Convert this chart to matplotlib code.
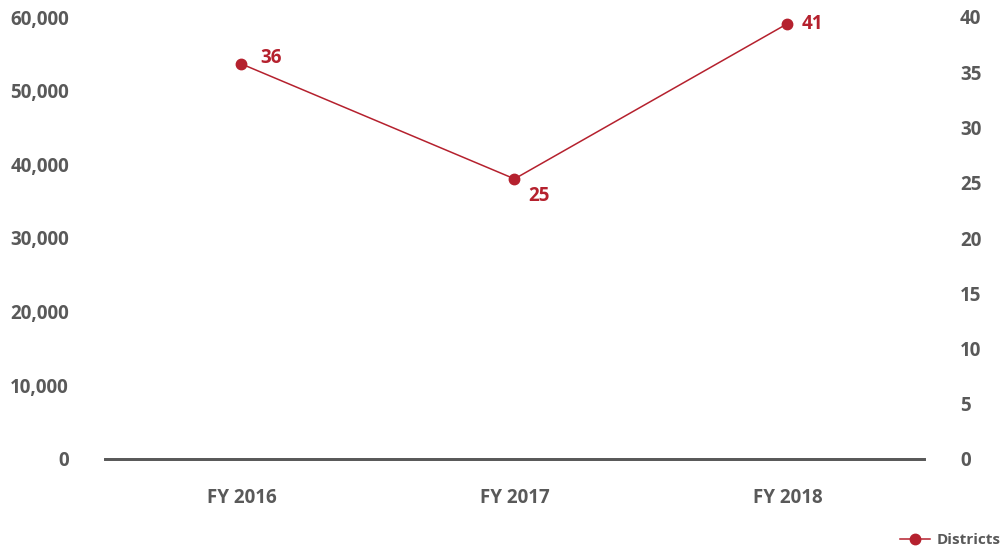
import numpy as np
import matplotlib.pyplot as plt
from matplotlib.lines import Line2D

plt.rcParams['font.family'] = ['Open Sans', 'DejaVu Sans']

# ---------------------------------------------------------------------------------------------- #

categories = ['FY 2016', 'FY 2017', 'FY 2018']
districts = [35.75, 25.35, 39.4]      # point heights
district_labels = ['36', '25', '41']  # labels printed next to the points
left_ticks = [0, 10000, 20000, 30000, 40000, 50000, 60000]
right_ticks = [0, 5, 10, 15, 20, 25, 30, 35, 40]

gray = '#595959'
red = '#B5212E'
fs = 13.5

# ---------------------------------------------------------------------------------------------- #

fig = plt.figure(figsize=(10.06, 5.53), dpi=100)
ax = fig.add_axes([105/1006, 94/553, 819/1006, 442/553])
ax2 = ax.twinx()

x = np.arange(len(categories))

# Left axis (empty, only the scale)
ax.set_xlim(-0.5, 2.5)
ax.set_ylim(0, 60000)
ax.set_yticks(left_ticks)
ax.set_yticklabels(['{:,}'.format(v) for v in left_ticks])
ax.set_xticks(x)
ax.set_xticklabels(categories)

# Right axis with the districts line
ax2.set_ylim(0, 40)
ax2.set_yticks(right_ticks)
ax2.plot(x, districts, color=red, linewidth=1.1, marker='o', markersize=7.5)

offsets = [(21, 4), (18, -12), (18, 0)]
for xi, yi, lab, off in zip(x, districts, district_labels, offsets):
    ax2.annotate(lab, (xi, yi), xytext=off, textcoords='offset points',
                 ha='center', va='center', color=red, fontsize=fs, fontweight='bold')

for a in (ax, ax2):
    for s in ('top', 'left', 'right'):
        a.spines[s].set_visible(False)
    a.spines['bottom'].set_color(gray)
    a.spines['bottom'].set_linewidth(2)
    a.tick_params(length=0, labelsize=fs, labelcolor=gray)
    for t in a.get_yticklabels() + a.get_xticklabels():
        t.set_fontweight('bold')

ax.tick_params(axis='y', pad=26)
ax2.tick_params(axis='y', pad=26)
ax.tick_params(axis='x', pad=21)

# Legend in the bottom right corner
handle = Line2D([], [], color=red, linewidth=1.1, marker='o', markersize=7.5)
leg = fig.legend([handle], ['Districts'], loc='center right', bbox_to_anchor=(0.995, 1 - 540/553),
                 frameon=False, handlelength=2.0, handletextpad=0.45, borderaxespad=0.0,
                 borderpad=0.0, prop={'size': 11, 'weight': 'bold'})
for t in leg.get_texts():
    t.set_color(gray)

fig.savefig('out.png', dpi=100)
